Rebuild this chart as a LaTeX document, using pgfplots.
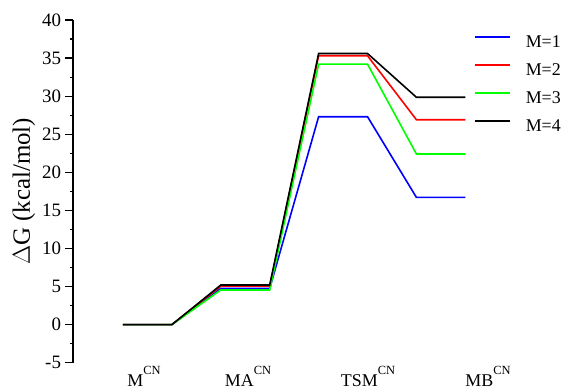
\documentclass[border=0pt]{standalone}
\usepackage{pgfplots}
\pgfplotsset{compat=1.18}
\usepackage{fontspec}
\setmainfont{Liberation Serif}
\definecolor{pblue}{RGB}{0,0,255}
\definecolor{pred}{RGB}{255,0,0}
\definecolor{pgreen}{RGB}{0,255,0}
\newcommand{\lab}[1]{#1\raisebox{11.5bp}{\fontsize{12.5}{12.5}\selectfont CN}}
\begin{document}
\begin{tikzpicture}
\useasboundingbox (0,0) rectangle (566bp,390bp);
\begin{axis}[
  at={(73bp,27.3bp)}, anchor=south west,
  scale only axis, width=416.8bp, height=342.7bp,
  xmin=-1.022, xmax=7.5, ymin=-5, ymax=40,
  axis y line=left, axis x line=none,
  axis line style={-, line width=1.6bp},
  ytick={-5,0,...,40}, minor y tick num=1,
  y tick label style={font=\fontsize{19}{21}\selectfont, xshift=-0.5bp},
  /pgf/number format/assume math mode=true,
  major tick length=8bp, minor tick length=3bp,
  tick align=outside,
  every tick/.style={line width=1.2bp, black},
  ylabel={$\Delta$G (kcal/mol)},
  ylabel style={font=\fontsize{25}{28}\selectfont},
  clip=false,
  legend style={at={(0.962,0.955)}, anchor=north west, draw=none, fill=none,
    inner sep=0pt, column sep=0bp, row sep=16bp,
    nodes={inner sep=0pt, font=\fontsize{18}{20}\selectfont, text height=12bp, text depth=0bp}},
  legend cell align=left,
  legend image code/.code={\draw[#1] (0bp,4.5bp) -- (35bp,4.5bp);},
]
\addplot[pblue, line width=1.6bp] coordinates {(0,0) (1,0) (2,4.75) (3,4.75) (4,27.3) (5,27.3) (6,16.7) (7,16.7)};
\addplot[pred, line width=1.6bp] coordinates {(0,0) (1,0) (2,5.05) (3,5.05) (4,35.3) (5,35.3) (6,26.9) (7,26.9)};
\addplot[pgreen, line width=1.6bp] coordinates {(0,0) (1,0) (2,4.55) (3,4.55) (4,34.2) (5,34.2) (6,22.4) (7,22.4)};
\addplot[black, line width=1.6bp] coordinates {(0,0) (1,0) (2,5.2) (3,5.2) (4,35.6) (5,35.6) (6,29.85) (7,29.85)};
\legend{\hspace{15bp}M=1,\hspace{15bp}M=2,\hspace{15bp}M=3,\hspace{15bp}M=4}
\end{axis}
\node[anchor=base, font=\fontsize{18}{20}\selectfont, inner sep=0pt] at (144bp,390bp-386bp) {\lab{M}};
\node[anchor=base, font=\fontsize{18}{20}\selectfont, inner sep=0pt] at (248bp,390bp-386bp) {\lab{MA}};
\node[anchor=base, font=\fontsize{18}{20}\selectfont, inner sep=0pt] at (368bp,390bp-386bp) {\lab{TSM}};
\node[anchor=base, font=\fontsize{18}{20}\selectfont, inner sep=0pt] at (488bp,390bp-386bp) {\lab{MB}};
\end{tikzpicture}
\end{document}
